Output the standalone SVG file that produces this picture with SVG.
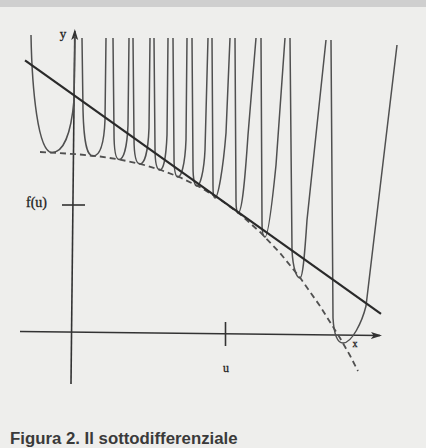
<svg xmlns="http://www.w3.org/2000/svg" width="426" height="448" viewBox="0 0 426 448">
<style>
.u{fill:none;stroke:#505050;stroke-width:1.5;stroke-linejoin:round}
.ax{fill:none;stroke:#333;stroke-width:1.6}
.lbl{font-family:"Liberation Serif",serif;fill:#222;stroke:#222;stroke-width:0.3}
</style>
<defs>
<marker id="arr" markerUnits="userSpaceOnUse" markerWidth="11" markerHeight="8" refX="9" refY="4" orient="auto">
<path d="M0,0.5 L11,4 L0,7.5 L2.5,4 Z" fill="#333"/>
</marker>
</defs>
<rect x="0" y="0" width="426" height="448" fill="#eeeeec"/>
<rect x="0" y="0" width="426" height="7" fill="#cfcfcf"/>
<g id="axes">
<line class="ax" x1="71" y1="384" x2="74.8" y2="31" marker-end="url(#arr)"/>
<line class="ax" x1="20" y1="331.5" x2="380" y2="335.5" marker-end="url(#arr)"/>
<line class="ax" x1="62" y1="205" x2="85" y2="205"/>
<line class="ax" x1="225.5" y1="322" x2="225.5" y2="346"/>
</g>
<g id="dashed">
<polyline fill="none" stroke="#505050" stroke-width="1.8" stroke-dasharray="6,4" points="40,152 60,153.1 80,154.5 100,156.5 120,159.6 140,163.8 160,169.7 180,177.3 200,187.1 220,199.3 240,214.2 260,232 280,253 300,277.6 320,306 340,338 350,355.5 358,371"/>
</g>
<g id="curves">
<path class="u" d="M31,35 C32,90 38,152.5 52,152.5 C63,152.5 71,135 74,100 L75,36"/>
<path class="u" d="M82,38 L83,110 C84,148 88,156 93,156 C99,156 104,146 105,120 L106,38"/>
<path class="u" d="M113,38 L114,132 C114,153 116,159.5 119,159.5 C123,159.5 127,150 128,125 L129,38"/>
<path class="u" d="M133,38 L134,138 C134,158 137,164 140,164 C144,164 148,154 149,128 L150,38"/>
<path class="u" d="M154,38 L155,148 C155,165 157,170 160,170 C163,170 166,160 167,135 L168,38"/>
<path class="u" d="M173,38 L174,156 C174,172 176,177 178,177 C181,177 185,166 186,140 L187,38"/>
<path class="u" d="M192,38 L193,166 C193,181 195,186 197,186 C200,186 204,172 205,150 L208,38"/>
<path class="u" d="M212,38 L213,186 C213,195 214,198 215,198 C218,198 223,170 226,133 L230,38"/>
<path class="u" d="M235,38 L236,200 C236,209 237,213 238,213 C242,213 245,180 248,135 L256,38"/>
<path class="u" d="M261,38 L262,222 C262,233 263,237 265,237 C268,237 272,205 276,165 L285,38"/>
<path class="u" d="M290,38 L292,250 C293,270 297,278 300,278 C303,278 305,250 307,220 L326,40"/>
<path class="u" d="M331,40 L333,318 C334,335 338,343 343,343 C352,343 362,322 366,306 L397,45"/>
</g>
<g id="tangent">
<line x1="25" y1="60.4" x2="381" y2="313.9" stroke="#2a2a2a" stroke-width="2.2"/>
</g>
<g id="labels">
<text class="lbl" x="63" y="38" font-size="13" text-anchor="middle">y</text>
<text class="lbl" x="26" y="206.5" font-size="14">f(u)</text>
<text class="lbl" x="226" y="372" font-size="12" text-anchor="middle">u</text>
<text class="lbl" x="355" y="347" font-size="10" text-anchor="middle">x</text>
</g>
<text x="10" y="443.5" font-family="Liberation Sans,sans-serif" font-weight="bold" font-size="16.8" fill="#3a3a3a">Figura 2. Il sottodifferenziale</text>
</svg>
